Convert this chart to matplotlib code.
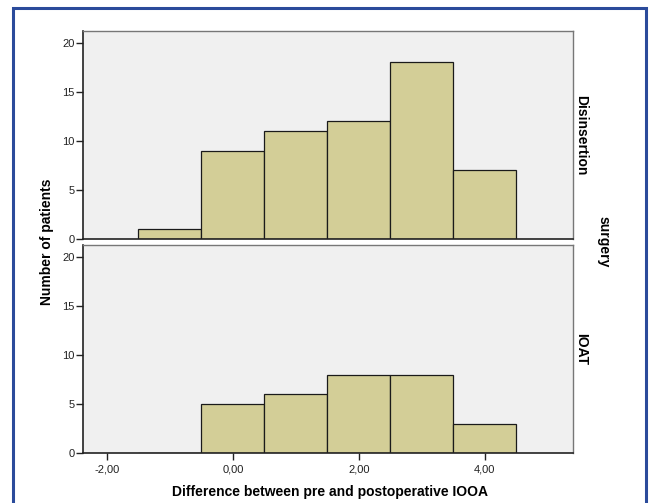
import matplotlib
matplotlib.use("Agg")
import matplotlib.pyplot as plt
from matplotlib.patches import Rectangle

plt.rcParams['font.family'] = ['Liberation Sans', 'DejaVu Sans']

bin_edges = [-1.5, -0.5, 0.5, 1.5, 2.5, 3.5, 4.5]
disinsertion_counts = [1, 9, 11, 12, 18, 7]
ioat_counts = [0, 5, 6, 8, 8, 3]
panel_labels = ["Disinsertion", "IOAT"]
x_ticks = [-2, 0, 2, 4]
x_ticklabels = ["-2,00", "0,00", "2,00", "4,00"]
y_ticks = [0, 5, 10, 15, 20]

fig = plt.figure(figsize=(6.5, 5.03), dpi=100)

# blue frame
fig.patches.append(Rectangle((13/650, -0.05), (646-13)/650, 1 - 8/503 + 0.05,
                             transform=fig.transFigure, fill=False,
                             edgecolor='#2b4b9b', linewidth=2.2))

positions = [
    [83/650, 1-239/503, (573-83)/650, (239-31)/503],
    [83/650, 1-453/503, (573-83)/650, (453-245)/503],
]
bar_color = '#d3ce97'
widths = [bin_edges[i+1]-bin_edges[i] for i in range(len(bin_edges)-1)]
lefts = bin_edges[:-1]

for i, (pos, counts, lab) in enumerate(zip(positions, [disinsertion_counts, ioat_counts], panel_labels)):
    ax = fig.add_axes(pos)
    ax.set_facecolor('#f0f0f0')
    ax.bar(lefts, counts, width=widths, align='edge', color=bar_color,
           edgecolor='#1a1a1a', linewidth=0.9)
    ax.set_xlim(-2.38, 5.40)
    ax.set_ylim(0, 21.2)
    ax.set_yticks(y_ticks)
    ax.set_yticklabels([str(v) for v in y_ticks], fontsize=8)
    ax.tick_params(axis='y', direction='out', length=5, width=1, pad=1, colors='#222222')
    for s in ['top', 'right']:
        ax.spines[s].set_color('#777777')
        ax.spines[s].set_linewidth(1)
    for s in ['left', 'bottom']:
        ax.spines[s].set_color('#222222')
        ax.spines[s].set_linewidth(1.2)
    ax.text(1.003, 0.5, lab, transform=ax.transAxes, rotation=-90,
            ha='left', va='center', fontsize=10, fontweight='bold')
    if i == 0:
        ax.set_xticks([])
    else:
        ax.set_xticks(x_ticks)
        ax.set_xticklabels(x_ticklabels, fontsize=8)
        ax.tick_params(axis='x', direction='out', length=5, width=1, pad=3, colors='#222222')

fig.text(330/650, 1-492/503, "Difference between pre and postoperative IOOA",
         ha='center', va='center', fontsize=10, fontweight='bold')
fig.text(47/650, 1-242/503, "Number of patients", rotation=90,
         ha='center', va='center', fontsize=10, fontweight='bold')
fig.text(604/650, 1-242/503, "surgery", rotation=-90,
         ha='center', va='center', fontsize=10, fontweight='bold')

fig.savefig("out.png", dpi=100)
